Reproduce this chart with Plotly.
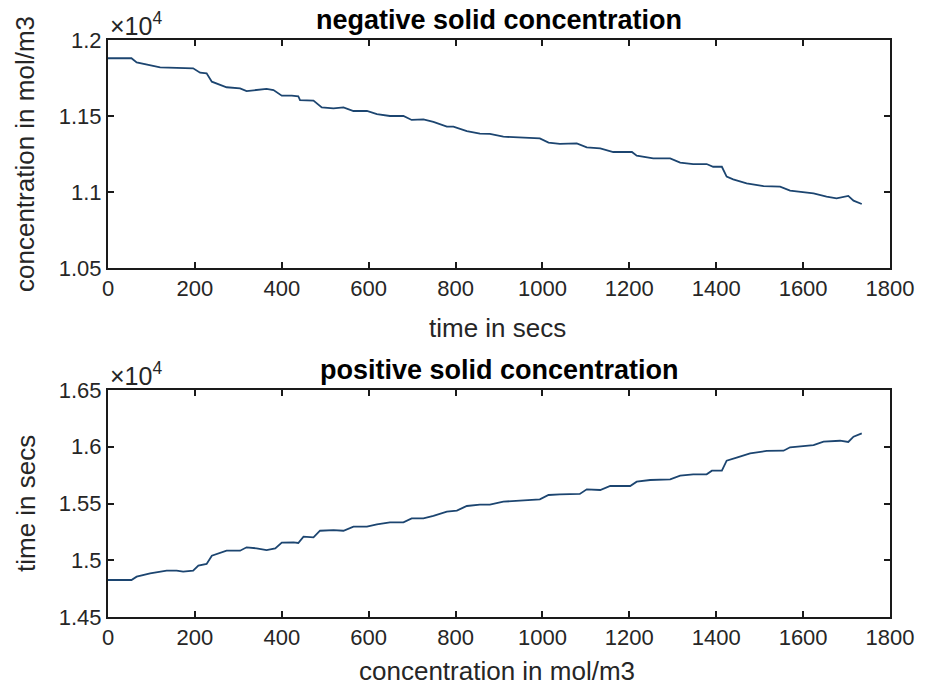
import plotly.graph_objects as go

W, H = 926, 696

# ---- data ----
neg_time = [0, 54, 66, 120, 196, 212, 227, 239, 273, 304, 319, 342, 365, 381, 400, 423, 438, 442,
            457, 473, 492, 519, 542, 565, 596, 619, 649, 680, 699, 726, 749, 780, 795, 826, 856,
            879, 910, 994, 1014, 1040, 1079, 1102, 1133, 1163, 1206, 1217, 1255, 1294, 1317, 1347,
            1378, 1393, 1413, 1424, 1439, 1470, 1509, 1547, 1570, 1624, 1654, 1677, 1704, 1716, 1735]
neg_conc = [11880, 11880, 11853, 11820, 11814, 11785, 11781, 11726, 11689, 11682, 11664, 11671,
            11678, 11671, 11634, 11634, 11630, 11605, 11601, 11601, 11557, 11550, 11557, 11533,
            11533, 11513, 11500, 11500, 11474, 11478, 11461, 11430, 11430, 11401, 11384, 11382,
            11364, 11353, 11325, 11316, 11320, 11294, 11287, 11263, 11263, 11239, 11221, 11221,
            11193, 11184, 11184, 11166, 11166, 11101, 11083, 11057, 11039, 11035, 11009, 10991,
            10969, 10958, 10974, 10943, 10921]

pos_time = [0, 54, 66, 97, 135, 158, 173, 196, 208, 227, 239, 273, 304, 319, 342, 365, 385, 400,
            427, 438, 450, 473, 488, 519, 542, 565, 596, 619, 649, 680, 699, 726, 749, 780, 803,
            826, 856, 879, 910, 994, 1014, 1040, 1086, 1102, 1133, 1156, 1202, 1217, 1248, 1294,
            1317, 1347, 1378, 1390, 1413, 1424, 1447, 1478, 1516, 1555, 1570, 1624, 1647, 1685,
            1704, 1716, 1735]
pos_conc = [14826, 14826, 14855, 14885, 14908, 14908, 14899, 14908, 14952, 14967, 15040, 15084,
            15084, 15114, 15105, 15090, 15105, 15155, 15158, 15152, 15208, 15202, 15260, 15266,
            15260, 15296, 15296, 15317, 15334, 15334, 15369, 15369, 15392, 15428, 15437, 15478,
            15490, 15490, 15516, 15537, 15575, 15581, 15584, 15625, 15619, 15654, 15654, 15692,
            15707, 15713, 15745, 15757, 15757, 15789, 15789, 15877, 15904, 15942, 15963, 15965,
            15995, 16015, 16045, 16053, 16042, 16089, 16118]

x_ticks = [0, 200, 400, 600, 800, 1000, 1200, 1400, 1600, 1800]
neg_yticks = [10500, 11000, 11500, 12000]
neg_yticklabels = ["1.05", "1.1", "1.15", "1.2"]
pos_yticks = [14500, 15000, 15500, 16000, 16500]
pos_yticklabels = ["1.45", "1.5", "1.55", "1.6", "1.65"]

top_title = "negative solid concentration"
bot_title = "positive solid concentration"
top_xlabel = "time in secs"
top_ylabel = "concentration in mol/m3"
bot_xlabel = "concentration in mol/m3"
bot_ylabel = "time in secs"
exponent_label = "×10<sup>4</sup>"

# ---- layout geometry (pixels) ----
L, R = 108, 890
T1, B1 = 40, 268
T2, B2 = 390, 617


def px(x):
    return x / W


def py(y):
    return 1 - y / H


LINE = "#1c4570"
AX = "#1a1a1a"
FONT = "Liberation Sans, Arial, sans-serif"
TICK_FS = 22
LAB_FS = 26
TITLE_FS = 27
EXP_FS = 25

fig = go.Figure()
fig.add_trace(go.Scatter(x=neg_time, y=neg_conc, mode="lines",
                         line=dict(color=LINE, width=1.8), xaxis="x", yaxis="y",
                         showlegend=False))
fig.add_trace(go.Scatter(x=pos_time, y=pos_conc, mode="lines",
                         line=dict(color=LINE, width=1.8), xaxis="x2", yaxis="y2",
                         showlegend=False))

common = dict(showline=True, linecolor=AX, linewidth=2, mirror="ticks", ticks="inside",
              ticklen=6, tickwidth=1.5, tickcolor=AX, showgrid=False, zeroline=False,
              automargin=False,
              tickfont=dict(family=FONT, size=TICK_FS, color="#262626"))

fig.update_layout(
    width=W, height=H, margin=dict(l=0, r=0, t=0, b=0, autoexpand=False),
    paper_bgcolor="white", plot_bgcolor="white",
    xaxis=dict(domain=[px(L), px(R)], range=[0, 1800], tickvals=x_ticks, anchor="y", **common),
    yaxis=dict(domain=[py(B1), py(T1)], range=[10500, 12000], tickvals=neg_yticks,
               ticktext=neg_yticklabels, anchor="x", **common),
    xaxis2=dict(domain=[px(L), px(R)], range=[0, 1800], tickvals=x_ticks, anchor="y2", **common),
    yaxis2=dict(domain=[py(B2), py(T2)], range=[14500, 16500], tickvals=pos_yticks,
                ticktext=pos_yticklabels, anchor="x2", **common),
)

ann = []


def text(x, y, s, size, bold=False, angle=0, xanchor="center", yanchor="middle"):
    ann.append(dict(x=px(x), y=py(y), xref="paper", yref="paper", text=s, showarrow=False,
                    textangle=angle, xanchor=xanchor, yanchor=yanchor,
                    font=dict(family=FONT, size=size, color="#000" if bold else "#262626")))


cx = (L + R) / 2
text(cx, 20, "<b>" + top_title + "</b>", TITLE_FS, bold=True)
text(cx, 370, "<b>" + bot_title + "</b>", TITLE_FS, bold=True)
text(497, 328, top_xlabel, LAB_FS)
text(497, 671, bot_xlabel, LAB_FS)
text(25, 154, top_ylabel, LAB_FS, angle=-90)
text(26, 504, bot_ylabel, LAB_FS, angle=-90)
text(108, 24, exponent_label, EXP_FS, xanchor="left")
text(108, 374, exponent_label, EXP_FS, xanchor="left")

fig.update_layout(annotations=ann)
fig.write_html("out.html")
